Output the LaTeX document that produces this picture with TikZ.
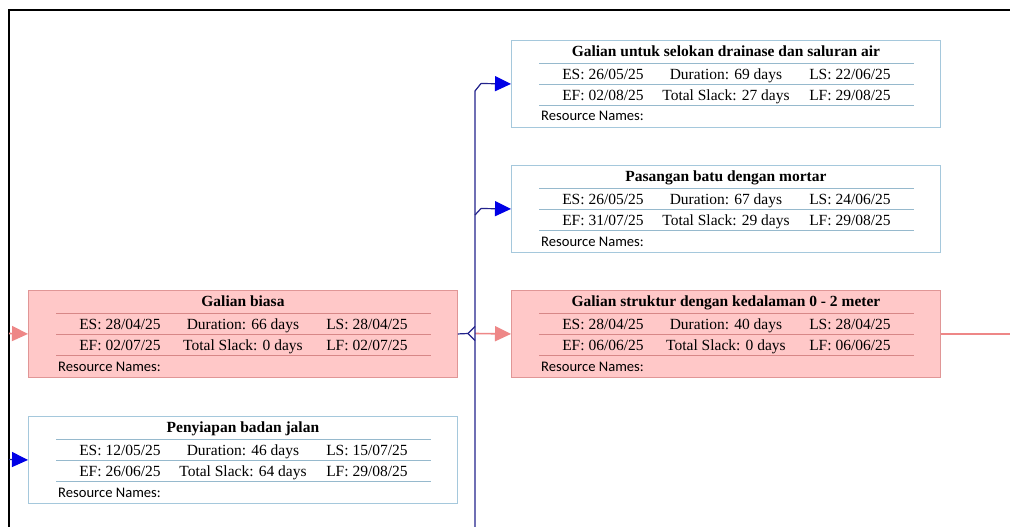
\documentclass[tikz,border=0pt]{standalone}
\usepackage{fontspec}
\setmainfont{Liberation Serif}
\newfontfamily\resfont{Carlito}
\usetikzlibrary{arrows.meta,calc}

\definecolor{critfill}{RGB}{255,200,200}
\definecolor{critdraw}{RGB}{224,150,150}
\definecolor{critline}{RGB}{215,135,135}
\definecolor{normdraw}{RGB}{165,200,220}
\definecolor{normline}{RGB}{150,185,205}
\definecolor{navyline}{RGB}{35,35,140}
\definecolor{arrowblue}{RGB}{0,0,230}
\definecolor{critarrow}{RGB}{238,135,135}

\tikzset{
  taskbase/.style={rectangle, anchor=north west, inner sep=0pt, minimum width=429pt, minimum height=87pt, line width=0.9pt},
  critbox/.style={taskbase, fill=critfill, draw=critdraw},
  normbox/.style={taskbase, fill=white, draw=normdraw},
  cell/.style={inner sep=0pt, anchor=base, font=\fontsize{15.5}{16}\selectfont},
  titlecell/.style={inner sep=0pt, anchor=base, font=\fontsize{15.5}{16}\selectfont\bfseries},
  rescell/.style={inner sep=0pt, anchor=base west, font=\fontsize{14.6}{16}\selectfont\resfont},
  navylink/.style={draw=navyline, line width=1.2pt},
  bluetip/.style={-{Triangle[length=16pt,width=15pt,color=arrowblue]}},
  crittip/.style={-{Triangle[length=16pt,width=15pt,color=critarrow]}},
  critlink/.style={draw=critarrow, line width=1.6pt},
}

\newcommand{\taskrows}[9]{%
  \node[titlecell] (#1-title) at ($(#1.north)+(0,16.5)$) {#2};
  \draw[#9, line width=0.8pt] ($(#1.north west)+(28,23)$) -- ($(#1.north east)+(-27,23)$);
  \draw[#9, line width=0.8pt] ($(#1.north west)+(28,44)$) -- ($(#1.north east)+(-27,44)$);
  \draw[#9, line width=0.8pt] ($(#1.north west)+(28,65)$) -- ($(#1.north east)+(-27,65)$);
  \node[cell] (#1-es) at ($(#1.north)+(-123,39.5)$) {ES: #3};
  \node[cell] (#1-dur) at ($(#1.north)+(0,39.5)$) {Duration: #4};
  \node[cell] (#1-ls) at ($(#1.north)+(124,39.5)$) {LS: #5};
  \node[cell] (#1-ef) at ($(#1.north)+(-123,60.5)$) {EF: #6};
  \node[cell] (#1-ts) at ($(#1.north)+(0,60.5)$) {Total Slack: #7};
  \node[cell] (#1-lf) at ($(#1.north)+(124,60.5)$) {LF: #8};
  \node[rescell] (#1-res) at ($(#1.north west)+(30,81)$) {Resource Names:};
}

\begin{document}
\begin{tikzpicture}[x=1pt,y=-1pt]
\useasboundingbox (0,0) rectangle (1010,527);
\fill[white] (0,0) rectangle (1010,527);

% frame
\coordinate (fbl) at (9,527);
\coordinate (ftl) at (9,10);
\coordinate (ftr) at (1010,10);
\draw[black, line width=1.3pt] (fbl) -- (ftl) -- (ftr);

% boxes
\node[normbox] (t1) at (511,40) {};
\taskrows{t1}{Galian untuk selokan drainase dan saluran air}{26/05/25}{69 days}{22/06/25}{02/08/25}{27 days}{29/08/25}{normline}

\node[normbox] (t2) at (511,165) {};
\taskrows{t2}{Pasangan batu dengan mortar}{26/05/25}{67 days}{24/06/25}{31/07/25}{29 days}{29/08/25}{normline}

\node[critbox] (t3) at (511,290) {};
\taskrows{t3}{Galian struktur dengan kedalaman 0 - 2 meter}{28/04/25}{40 days}{28/04/25}{06/06/25}{0 days}{06/06/25}{critline}

\node[critbox] (ga) at (28,290) {};
\taskrows{ga}{Galian biasa}{28/04/25}{66 days}{28/04/25}{02/07/25}{0 days}{02/07/25}{critline}

\node[normbox] (pb) at (28,416) {};
\taskrows{pb}{Penyiapan badan jalan}{12/05/25}{46 days}{15/07/25}{26/06/25}{64 days}{29/08/25}{normline}

% connector coordinates
\coordinate (vbot) at (475,527);
\coordinate (vtop) at (475,91);
\coordinate (j1) at (481,83.5);
\coordinate (j2a) at (475,215);
\coordinate (j2) at (481,208.5);
\coordinate (jga) at (468,333.5);
\coordinate (jup) at (475,326.5);
\coordinate (jdn) at (475,340.5);
\coordinate (jcr) at (475,333.5);
\coordinate (lin1) at (9,333.5);
\coordinate (lin2) at (9,459.5);
\coordinate (rout) at (1010,333.5);

% critical links
\draw[critlink, crittip] (jcr) -- (t3.west);
\draw[critlink] (t3.east) -- (t3.east -| rout);
\draw[critlink, crittip] (lin1) -- (ga.west);

% navy links
\draw[navylink] (vbot) -- (vtop) -- (j1);
\draw[navylink, bluetip] (j1) -- (t1.west);
\draw[navylink] (j2a) -- (j2);
\draw[navylink, bluetip] (j2) -- (t2.west);
\draw[navylink] (ga.east) -- (jga) -- (jup);
\draw[navylink] (jga) -- (jdn);
\draw[navylink, bluetip] (lin2) -- (pb.west);
\end{tikzpicture}
\end{document}
